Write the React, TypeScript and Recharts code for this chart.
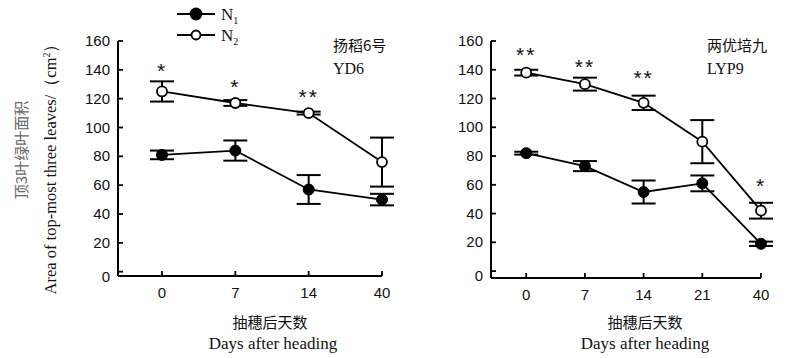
import React from 'react'
import { LineChart, Line, XAxis, YAxis, ErrorBar, LabelList } from 'recharts'

// left panel: 扬稻6号 YD6
const daysA = ['0', '7', '14', '40']
const n1A = [81, 84, 57, 50]
const n1ErrA = [3, 7, 10, 4]
const n2A = [125, 117, 110, 76]
const n2ErrA = [7, 2, 1, 17]
const sigA = ['*', '*', '**', '']
const sigYA = [142, 131, 124, 0]

// right panel: 两优培九 LYP9
const daysB = ['0', '7', '14', '21', '40']
const n1B = [82, 73, 55, 61, 19]
const n1ErrB = [1, 3.5, 8, 5.5, 1.5]
const n2B = [138, 130, 117, 90, 42]
const n2ErrB = [2, 4.5, 5, 15, 5.5]
const sigB = ['**', '**', '**', '', '*']
const sigYB = [153, 145, 137, 0, 62]

const yTicks = [0, 20, 40, 60, 80, 100, 120, 140, 160]
const seriesNames = ['1', '2']

const build = (days: string[], n1: number[], e1: number[], n2: number[], e2: number[], sig: string[], sigY: number[]) =>
  days.map((d, i) => ({ i, day: d, n1: n1[i], e1: e1[i], n2: n2[i], e2: e2[i], sig: sig[i], sigY: sig[i] ? sigY[i] : null }))

const dataA = build(daysA, n1A, n1ErrA, n2A, n2ErrA, sigA, sigYA)
const dataB = build(daysB, n1B, n1ErrB, n2B, n2ErrB, sigB, sigYB)

const SANS = '"Liberation Sans", Arial, sans-serif'
const SERIF = '"Liberation Serif", "Times New Roman", serif'
const CJK = '"Noto Sans CJK SC", sans-serif'

const YTick = (p: any) => {
  const { x, y, payload } = p
  const ly = payload.value === 0 ? y + 5 : y
  return (
    <g>
      <line x1={x + 8} x2={x + 13} y1={y} y2={y} stroke="#000" strokeWidth={1.8} />
      <text x={x} y={ly + 5} textAnchor="end" fontSize={15} fontFamily={SANS} fill="#111">{payload.value}</text>
    </g>
  )
}

const XTick = (labels: string[]) => (p: any) => {
  const { x, y, payload } = p
  return (
    <g>
      <line x1={x} x2={x} y1={y - 8} y2={y - 13} stroke="#000" strokeWidth={1.8} />
      <text x={x} y={y + 14} textAnchor="middle" fontSize={15} fontFamily={SANS} fill="#111">{labels[payload.value]}</text>
    </g>
  )
}

const Stars = (p: any) => {
  const { x, y, value } = p
  if (!value) return null
  return (
    <text x={x} y={y + 11} textAnchor="middle" fontSize={21} fontFamily={SANS} letterSpacing={2} fill="#111">{value}</text>
  )
}

function Panel({ data, labels, margin, yMin }: { data: any[]; labels: string[]; margin: any; yMin: number }) {
  return (
    <LineChart width={400} height={358} data={data} margin={margin}>
      <XAxis dataKey="i" type="number" domain={[-0.6, labels.length - 1]} ticks={labels.map((_, i) => i)} interval={0}
        height={30} tickLine={false} tick={XTick(labels)} axisLine={{ stroke: '#000', strokeWidth: 2 }} />
      <YAxis type="number" domain={[yMin, 160]} ticks={yTicks} interval={0} width={60} tickLine={false}
        tick={YTick} axisLine={{ stroke: '#000', strokeWidth: 2 }} allowDataOverflow />
      <Line dataKey="n1" stroke="#000" strokeWidth={1.8} isAnimationActive={false}
        dot={{ r: 5.5, fill: '#000', stroke: '#000', strokeWidth: 1 }}>
        <ErrorBar dataKey="e1" width={12} stroke="#000" strokeWidth={2} />
      </Line>
      <Line dataKey="n2" stroke="#000" strokeWidth={1.8} isAnimationActive={false}
        dot={{ r: 5, fill: '#fff', stroke: '#000', strokeWidth: 1.8 }}>
        <ErrorBar dataKey="e2" width={12} stroke="#000" strokeWidth={2} />
      </Line>
      <Line dataKey="sigY" stroke="none" dot={false} isAnimationActive={false} connectNulls={false}>
        <LabelList dataKey="sig" content={Stars} />
      </Line>
    </LineChart>
  )
}

const abs = (left: number, top: number, extra: React.CSSProperties = {}): React.CSSProperties => ({ position: 'absolute', left, top, ...extra })

export default function App() {
  return (
    <div style={{ position: 'absolute', left: 0, top: 0, width: 800, height: 358, background: '#fff', overflow: 'hidden' }}>
      <div style={abs(0, 0)}>
        <Panel data={dataA} labels={daysA} yMin={-3} margin={{ top: 41, right: 18, bottom: 52, left: 58 }} />
      </div>
      <div style={abs(400, 0)}>
        <Panel data={dataB} labels={daysB} yMin={-4.8} margin={{ top: 41, right: 39, bottom: 50, left: 31 }} />
      </div>
      <svg width={800} height={358} style={abs(0, 0, { pointerEvents: 'none' })}>
        {/* legend */}
        {seriesNames.map((s, k) => {
          const cy = 14 + k * 21
          return (
            <g key={s}>
              <line x1={177} x2={215} y1={cy} y2={cy} stroke="#000" strokeWidth={1.8} />
              <circle cx={196} cy={cy} r={k === 0 ? 5.5 : 4.5} fill={k === 0 ? '#000' : '#fff'} stroke="#000" strokeWidth={1.8} />
              <text x={221} y={cy + 6} fontSize={17} fontFamily={SERIF} fill="#111">N<tspan fontSize={10} dy={4}>{s}</tspan></text>
            </g>
          )
        })}
        <text transform="translate(27,150) rotate(-90)" textAnchor="middle" fontSize={15} fontFamily={CJK} fill="#666">顶3叶绿叶面积</text>
        <text transform="translate(56,165) rotate(-90)" textAnchor="middle" fontSize={16.5} fontFamily={SERIF} fill="#111">
          Area of top-most three leaves/（cm<tspan fontSize={10} dy={-6}>2</tspan><tspan dy={6}>）</tspan>
        </text>
        <text x={333} y={51} fontSize={15} fontFamily={CJK} fill="#111">扬稻6号</text>
        <text x={333} y={74} fontSize={16} fontFamily={SERIF} fill="#111">YD6</text>
        <text x={707} y={51} fontSize={15} fontFamily={CJK} fill="#111">两优培九</text>
        <text x={707} y={74} fontSize={16} fontFamily={SERIF} fill="#111">LYP9</text>
        <text x={270} y={328} textAnchor="middle" fontSize={15} fontFamily={CJK} fill="#111">抽穗后天数</text>
        <text x={273} y={349} textAnchor="middle" fontSize={17} fontFamily={SERIF} fill="#111">Days after heading</text>
        <text x={645} y={328} textAnchor="middle" fontSize={15} fontFamily={CJK} fill="#111">抽穗后天数</text>
        <text x={645} y={349} textAnchor="middle" fontSize={17} fontFamily={SERIF} fill="#111">Days after heading</text>
      </svg>
    </div>
  )
}
